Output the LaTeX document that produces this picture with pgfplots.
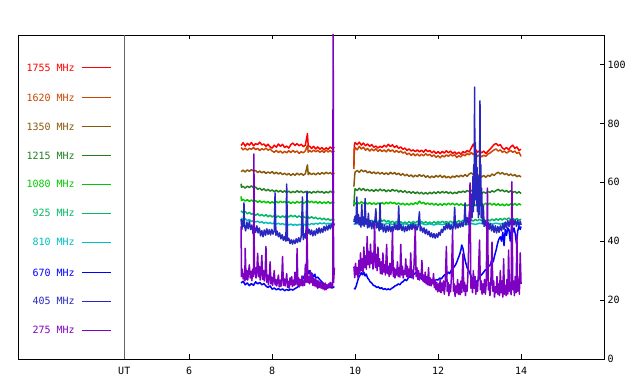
\documentclass[border=0pt]{standalone}
\usepackage{pgfplots}
\pgfplotsset{compat=1.18}
\usepackage{fontspec}
\setmainfont{DejaVu Sans Mono}
\newcommand{\lab}{\fontsize{10bp}{12bp}\selectfont}
\definecolor{cA}{RGB}{255,0,0}
\definecolor{cB}{RGB}{200,70,0}
\definecolor{cC}{RGB}{136,88,8}
\definecolor{cD}{RGB}{32,128,32}
\definecolor{cE}{RGB}{0,200,0}
\definecolor{cF}{RGB}{0,185,100}
\definecolor{cG}{RGB}{0,190,190}
\definecolor{cH}{RGB}{0,0,255}
\definecolor{cI}{RGB}{40,40,192}
\definecolor{cJ}{RGB}{125,0,195}
\definecolor{cUT}{RGB}{100,100,100}
\begin{document}
\begin{tikzpicture}
\useasboundingbox (-18bp,-25bp) rectangle (622bp,359bp);
\begin{axis}[at={(0,0)},anchor=south west,
  width=586bp,height=324bp,scale only axis,
  xmin=1.872,xmax=16,ymin=0,ymax=110,
  axis line style={line width=0.9bp},
  xtick={4.434,6,8,10,12,14},xticklabels={UT,6,8,10,12,14},
  ytick={0,20,40,60,80,100},
  ytick pos=right, yticklabel pos=right,
  xticklabel pos=bottom,
  tick align=inside, major tick length=4.5bp,
  tick style={line width=0.9bp,black},
  ticklabel style={font=\lab},
  xticklabel style={yshift=-5bp},
  /pgf/number format/assume math mode=true,
  unbounded coords=jump, clip=true,
  every axis plot/.append style={line width=1.5bp, mark=none, line join=round},
]
% UT line
\addplot[cUT,line width=0.9bp] coordinates {(4.434,0)(4.434,110)};
% legend lines
\addplot[cA,line width=1bp] coordinates {(3.41,98.9)(4.11,98.9)};
\addplot[cB,line width=1bp] coordinates {(3.41,88.7)(4.11,88.7)};
\addplot[cC,line width=1bp] coordinates {(3.41,78.9)(4.11,78.9)};
\addplot[cD,line width=1bp] coordinates {(3.41,69.0)(4.11,69.0)};
\addplot[cE,line width=1bp] coordinates {(3.41,59.4)(4.11,59.4)};
\addplot[cF,line width=1bp] coordinates {(3.41,49.5)(4.11,49.5)};
\addplot[cG,line width=1bp] coordinates {(3.41,39.6)(4.11,39.6)};
\addplot[cH,line width=1bp] coordinates {(3.41,29.4)(4.11,29.4)};
\addplot[cI,line width=1bp] coordinates {(3.41,19.6)(4.11,19.6)};
\addplot[cJ,line width=1bp] coordinates {(3.41,9.8)(4.11,9.8)};
\node[anchor=east,inner sep=0,text=cA,font=\lab] at (axis cs:3.243,98.9) {1755 MHz};
\node[anchor=east,inner sep=0,text=cB,font=\lab] at (axis cs:3.243,88.7) {1620 MHz};
\node[anchor=east,inner sep=0,text=cC,font=\lab] at (axis cs:3.243,78.9) {1350 MHz};
\node[anchor=east,inner sep=0,text=cD,font=\lab] at (axis cs:3.243,69.0) {1215 MHz};
\node[anchor=east,inner sep=0,text=cE,font=\lab] at (axis cs:3.243,59.4) {1080 MHz};
\node[anchor=east,inner sep=0,text=cF,font=\lab] at (axis cs:3.243,49.5) {925 MHz};
\node[anchor=east,inner sep=0,text=cG,font=\lab] at (axis cs:3.243,39.6) {810 MHz};
\node[anchor=east,inner sep=0,text=cH,font=\lab] at (axis cs:3.243,29.4) {670 MHz};
\node[anchor=east,inner sep=0,text=cI,font=\lab] at (axis cs:3.243,19.6) {405 MHz};
\node[anchor=east,inner sep=0,text=cJ,font=\lab] at (axis cs:3.243,9.8) {275 MHz};
\node[font=\lab] at (rel axis cs:0.5,1) [yshift=18bp] {06 06 2005};
% 1755
\addplot[cA] coordinates {(7.25,72.5)(7.3,73.4)(7.35,72.3)(7.4,73.2)(7.45,72.6)(7.5,73.5)(7.55,72.4)(7.6,73.1)(7.65,72.8)(7.7,73.6)(7.75,72.7)(7.8,73.0)(7.85,72.2)(7.9,72.9)(7.95,72.0)(8.0,71.6)(8.05,72.6)(8.1,71.9)(8.15,73.0)(8.2,72.2)(8.25,72.9)(8.3,71.8)(8.35,72.3)(8.4,71.6)(8.45,72.8)(8.5,73.3)(8.55,72.5)(8.6,73.1)(8.65,72.4)(8.7,72.9)(8.75,72.1)(8.8,72.6)(8.85,76.5)(8.87,72.0)(8.9,72.3)(8.95,71.5)(9.0,72.2)(9.05,71.3)(9.1,72.0)(9.15,71.2)(9.2,71.8)(9.25,71.0)(9.3,71.7)(9.35,71.2)(9.4,72.0)(9.45,71.4)(9.5,71.9)(9.7,nan)
(9.97,65.5)(9.98,72.5)(10.0,73.5)(10.05,72.8)(10.1,73.6)(10.15,72.6)(10.2,73.3)(10.25,72.4)(10.3,73.0)(10.35,72.2)(10.4,72.8)(10.45,71.9)(10.5,72.3)(10.55,71.6)(10.6,72.2)(10.65,71.8)(10.7,72.6)(10.75,72.0)(10.8,72.9)(10.85,72.1)(10.9,72.7)(10.95,71.8)(11.0,72.4)(11.05,71.5)(11.1,72.0)(11.15,71.2)(11.2,71.6)(11.25,70.8)(11.3,71.3)(11.35,70.6)(11.4,71.0)(11.45,70.4)(11.5,71.0)(11.55,70.3)(11.6,70.9)(11.65,70.2)(11.7,71.1)(11.75,70.4)(11.8,70.8)(11.85,70.0)(11.9,70.6)(11.95,69.8)(12.0,70.4)(12.05,69.7)(12.1,70.5)(12.15,69.9)(12.2,70.7)(12.25,70.0)(12.3,70.6)(12.35,69.8)(12.4,70.3)(12.45,69.6)(12.5,70.2)(12.55,69.5)(12.6,70.4)(12.65,70.0)(12.7,70.8)(12.75,70.3)(12.8,71.6)(12.85,73.0)(12.9,71.2)(12.95,70.2)(13.0,70.7)(13.05,70.0)(13.1,70.6)(13.15,69.8)(13.2,70.5)(13.25,71.2)(13.3,72.0)(13.35,72.8)(13.4,73.2)(13.45,72.4)(13.5,72.8)(13.55,71.6)(13.6,71.2)(13.65,71.8)(13.7,71.0)(13.75,72.0)(13.8,72.6)(13.85,71.5)(13.9,72.0)(13.95,70.8)(14.0,71.2)};
% 1620
\addplot[cB] coordinates {(7.25,71.8)(7.3,71.0)(7.35,71.6)(7.4,70.9)(7.45,71.5)(7.5,71.2)(7.55,71.8)(7.6,71.1)(7.65,71.5)(7.7,70.8)(7.75,71.4)(7.8,71.0)(7.85,71.6)(7.9,70.9)(7.95,71.3)(8.0,70.6)(8.05,70.2)(8.1,70.8)(8.15,70.1)(8.2,70.6)(8.25,69.9)(8.3,70.5)(8.35,70.0)(8.4,70.7)(8.45,70.1)(8.5,70.8)(8.55,70.2)(8.6,70.6)(8.65,69.8)(8.7,70.4)(8.75,70.0)(8.8,70.7)(8.85,72.5)(8.87,70.2)(8.9,70.8)(8.95,70.3)(9.0,70.9)(9.05,70.4)(9.1,70.8)(9.15,70.2)(9.2,70.7)(9.25,70.1)(9.3,70.9)(9.35,70.3)(9.4,70.8)(9.45,70.2)(9.5,70.6)(9.7,nan)
(9.97,64.5)(9.98,70.5)(10.0,71.8)(10.05,71.0)(10.1,72.2)(10.15,71.3)(10.2,71.9)(10.25,70.9)(10.3,71.5)(10.35,70.6)(10.4,71.3)(10.45,70.7)(10.5,71.4)(10.55,70.5)(10.6,71.1)(10.65,70.4)(10.7,71.0)(10.75,70.3)(10.8,71.2)(10.85,70.5)(10.9,71.0)(10.95,70.2)(11.0,70.8)(11.05,70.1)(11.1,70.6)(11.15,69.9)(11.2,70.3)(11.25,69.4)(11.3,69.9)(11.35,69.1)(11.4,69.7)(11.45,69.0)(11.5,69.6)(11.55,68.9)(11.6,69.5)(11.65,69.0)(11.7,69.7)(11.75,69.1)(11.8,69.5)(11.85,68.7)(11.9,69.3)(11.95,68.5)(12.0,69.0)(12.05,68.3)(12.1,69.1)(12.15,68.6)(12.2,69.3)(12.25,68.8)(12.3,69.5)(12.35,68.9)(12.4,69.4)(12.45,68.4)(12.5,69.0)(12.55,68.6)(12.6,69.5)(12.65,69.0)(12.7,69.8)(12.75,69.3)(12.8,70.1)(12.85,69.4)(12.9,69.8)(12.95,68.8)(13.0,69.3)(13.05,68.6)(13.1,69.2)(13.15,68.8)(13.2,69.6)(13.25,69.9)(13.3,70.5)(13.35,71.0)(13.4,71.3)(13.45,70.6)(13.5,71.0)(13.55,70.2)(13.6,70.6)(13.65,69.9)(13.7,70.4)(13.75,70.8)(13.8,70.2)(13.85,70.6)(13.9,69.8)(13.95,70.2)(14.0,68.8)};
% 1350
\addplot[cC] coordinates {(7.25,63.6)(7.3,64.1)(7.35,63.5)(7.4,64.2)(7.45,63.7)(7.5,64.3)(7.55,63.8)(7.6,64.0)(7.65,63.3)(7.7,63.8)(7.75,63.2)(7.8,63.7)(7.85,63.0)(7.9,63.5)(7.95,63.1)(8.0,63.6)(8.05,62.9)(8.1,63.4)(8.15,62.8)(8.2,63.3)(8.25,62.6)(8.3,63.1)(8.35,62.5)(8.4,63.0)(8.45,62.3)(8.5,62.9)(8.55,62.4)(8.6,63.1)(8.65,62.5)(8.7,63.0)(8.75,62.4)(8.8,62.9)(8.85,65.9)(8.87,62.6)(8.9,63.2)(8.95,62.6)(9.0,63.1)(9.05,62.5)(9.1,63.2)(9.15,62.7)(9.2,63.3)(9.25,62.8)(9.3,63.4)(9.35,62.9)(9.4,63.3)(9.45,62.7)(9.5,63.1)(9.7,nan)
(9.97,58.5)(9.99,62.5)(10.0,63.5)(10.05,64.0)(10.1,63.4)(10.15,64.2)(10.2,63.6)(10.25,64.0)(10.3,63.2)(10.35,63.7)(10.4,63.0)(10.45,63.5)(10.5,62.9)(10.55,63.4)(10.6,62.8)(10.65,63.3)(10.7,62.7)(10.75,63.2)(10.8,62.6)(10.85,63.4)(10.9,62.8)(10.95,63.3)(11.0,62.6)(11.05,63.1)(11.1,62.4)(11.15,62.9)(11.2,62.2)(11.25,62.7)(11.3,62.0)(11.35,62.5)(11.4,61.8)(11.45,62.4)(11.5,61.9)(11.55,62.6)(11.6,62.0)(11.65,62.5)(11.7,61.7)(11.75,62.2)(11.8,61.5)(11.85,62.1)(11.9,61.6)(11.95,62.3)(12.0,61.8)(12.05,62.4)(12.1,61.6)(12.15,62.2)(12.2,61.5)(12.25,62.0)(12.3,61.4)(12.35,62.1)(12.4,61.7)(12.45,62.3)(12.5,61.8)(12.55,62.4)(12.6,61.9)(12.65,62.6)(12.7,62.0)(12.75,62.8)(12.8,63.2)(12.85,62.5)(12.9,63.0)(12.95,62.2)(13.0,62.6)(13.05,61.8)(13.1,62.3)(13.15,61.7)(13.2,62.4)(13.25,62.0)(13.3,62.8)(13.35,62.3)(13.4,63.0)(13.45,63.4)(13.5,62.8)(13.55,63.3)(13.6,62.6)(13.65,63.0)(13.7,62.3)(13.75,62.8)(13.8,62.2)(13.85,62.6)(13.9,61.9)(13.95,62.3)(14.0,61.8)};
% 1215
\addplot[cD] coordinates {(7.25,59.5)(7.26,58.3)(7.3,58.6)(7.35,58.0)(7.4,58.7)(7.45,58.2)(7.5,58.8)(7.55,58.1)(7.6,58.4)(7.65,57.6)(7.7,58.0)(7.75,57.3)(7.8,57.8)(7.85,57.1)(7.9,57.6)(7.95,57.0)(8.0,57.4)(8.05,56.8)(8.1,57.3)(8.15,56.7)(8.2,57.2)(8.25,56.6)(8.3,57.1)(8.35,56.5)(8.4,57.0)(8.45,56.4)(8.5,56.9)(8.55,56.5)(8.6,57.1)(8.65,56.6)(8.7,57.0)(8.75,56.4)(8.8,56.9)(8.85,56.3)(8.9,56.8)(8.95,56.3)(9.0,56.9)(9.05,56.4)(9.1,57.0)(9.15,56.5)(9.2,56.9)(9.25,56.3)(9.3,56.8)(9.35,56.4)(9.4,57.0)(9.45,56.5)(9.5,56.8)(9.7,nan)
(9.97,51.8)(9.99,57.0)(10.0,57.8)(10.05,57.2)(10.1,58.0)(10.15,57.3)(10.2,57.9)(10.25,57.1)(10.3,57.6)(10.35,57.0)(10.4,57.5)(10.45,56.9)(10.5,57.6)(10.55,57.0)(10.6,57.7)(10.65,57.1)(10.7,57.5)(10.75,56.8)(10.8,57.4)(10.85,56.9)(10.9,57.6)(10.95,57.0)(11.0,57.4)(11.05,56.7)(11.1,57.2)(11.15,56.6)(11.2,57.1)(11.25,56.4)(11.3,56.9)(11.35,56.3)(11.4,56.8)(11.45,56.2)(11.5,56.7)(11.55,56.1)(11.6,56.6)(11.65,56.0)(11.7,56.5)(11.75,56.0)(11.8,56.6)(11.85,56.1)(11.9,56.7)(11.95,56.2)(12.0,56.8)(12.05,56.3)(12.1,56.9)(12.15,56.4)(12.2,56.8)(12.25,56.2)(12.3,56.7)(12.35,56.1)(12.4,56.6)(12.45,56.2)(12.5,56.9)(12.55,56.5)(12.6,57.0)(12.65,56.6)(12.7,57.2)(12.75,56.8)(12.8,57.3)(12.85,56.6)(12.9,57.0)(12.95,56.4)(13.0,56.8)(13.05,56.2)(13.1,56.7)(13.15,56.3)(13.2,56.9)(13.25,56.5)(13.3,57.1)(13.35,56.7)(13.4,57.2)(13.45,57.6)(13.5,57.0)(13.55,57.4)(13.6,56.8)(13.65,57.2)(13.7,56.6)(13.75,57.1)(13.8,56.5)(13.85,56.9)(13.9,56.3)(13.95,56.8)(14.0,56.2)};
% 1080
\addplot[cE] coordinates {(7.25,55.2)(7.26,53.8)(7.3,54.2)(7.35,53.6)(7.4,54.1)(7.45,53.5)(7.5,54.0)(7.55,53.4)(7.6,53.8)(7.65,53.2)(7.7,53.7)(7.75,53.1)(7.8,53.6)(7.85,53.0)(7.9,53.5)(7.95,52.9)(8.0,53.4)(8.05,52.9)(8.1,53.5)(8.15,53.0)(8.2,53.6)(8.25,53.1)(8.3,53.5)(8.35,52.9)(8.4,53.4)(8.45,52.8)(8.5,53.3)(8.55,52.9)(8.6,53.5)(8.65,53.0)(8.7,53.4)(8.75,52.8)(8.8,53.3)(8.85,53.9)(8.9,53.1)(8.95,53.6)(9.0,53.0)(9.05,53.5)(9.1,52.9)(9.15,53.4)(9.2,52.8)(9.25,53.3)(9.3,52.9)(9.35,53.4)(9.4,52.8)(9.45,53.3)(9.5,53.0)(9.7,nan)
(9.97,53.3)(10.0,52.6)(10.05,53.3)(10.1,52.7)(10.15,53.4)(10.2,52.8)(10.25,53.2)(10.3,52.6)(10.35,53.1)(10.4,52.5)(10.45,53.0)(10.5,52.4)(10.55,53.0)(10.6,52.5)(10.65,53.1)(10.7,52.6)(10.75,53.2)(10.8,52.7)(10.85,53.3)(10.9,52.8)(10.95,53.1)(11.0,52.5)(11.05,53.0)(11.1,52.4)(11.15,52.9)(11.2,52.3)(11.25,52.8)(11.3,52.3)(11.35,52.9)(11.4,52.4)(11.45,53.1)(11.5,52.6)(11.55,53.6)(11.6,52.8)(11.65,53.2)(11.7,52.5)(11.75,53.0)(11.8,52.4)(11.85,52.9)(11.9,52.3)(11.95,52.8)(12.0,52.2)(12.05,52.7)(12.1,52.2)(12.15,52.8)(12.2,52.3)(12.25,52.9)(12.3,52.4)(12.35,52.9)(12.4,52.3)(12.45,52.8)(12.5,52.2)(12.55,52.7)(12.6,52.1)(12.65,52.6)(12.7,52.0)(12.75,52.5)(12.8,52.0)(12.85,52.6)(12.9,52.1)(12.95,52.7)(13.0,52.2)(13.05,52.8)(13.1,52.3)(13.15,52.9)(13.2,52.4)(13.25,52.9)(13.3,52.3)(13.35,52.8)(13.4,52.2)(13.45,52.7)(13.5,52.1)(13.55,52.6)(13.6,52.0)(13.65,52.6)(13.7,52.1)(13.75,52.7)(13.8,52.2)(13.85,52.8)(13.9,52.2)(13.95,52.7)(14.0,52.3)};
% 925
\addplot[cF] coordinates {(7.25,50.3)(7.3,49.6)(7.35,50.1)(7.4,49.3)(7.45,49.8)(7.5,49.1)(7.55,49.5)(7.6,48.8)(7.65,49.3)(7.7,48.6)(7.75,49.1)(7.8,48.5)(7.85,49.0)(7.9,48.3)(7.95,48.8)(8.0,48.2)(8.05,48.7)(8.1,48.1)(8.15,48.6)(8.2,48.0)(8.25,48.6)(8.3,48.1)(8.35,48.7)(8.4,48.2)(8.45,48.8)(8.5,48.3)(8.55,48.7)(8.6,48.1)(8.65,48.6)(8.7,48.0)(8.75,48.5)(8.8,47.9)(8.85,48.4)(8.9,47.8)(8.95,48.3)(9.0,47.7)(9.05,48.1)(9.1,47.5)(9.15,47.9)(9.2,47.3)(9.25,47.8)(9.3,47.2)(9.35,47.6)(9.4,47.0)(9.45,47.5)(9.5,47.1)(9.7,nan)
(9.97,47.2)(10.0,47.8)(10.05,47.1)(10.1,47.6)(10.15,46.9)(10.2,47.4)(10.25,46.8)(10.3,47.3)(10.35,46.6)(10.4,47.1)(10.45,46.5)(10.5,47.0)(10.55,46.4)(10.6,47.5)(10.65,46.7)(10.7,47.2)(10.75,46.5)(10.8,47.0)(10.85,46.3)(10.9,46.8)(10.95,46.2)(11.0,46.7)(11.05,46.1)(11.1,46.6)(11.15,46.0)(11.2,46.5)(11.25,46.0)(11.3,46.6)(11.35,46.1)(11.4,46.7)(11.45,46.2)(11.5,46.8)(11.55,46.3)(11.6,46.7)(11.65,46.1)(11.7,46.6)(11.75,46.0)(11.8,46.5)(11.85,46.0)(11.9,46.6)(11.95,46.1)(12.0,46.7)(12.05,46.2)(12.1,46.8)(12.15,46.3)(12.2,46.7)(12.25,46.2)(12.3,46.8)(12.35,46.3)(12.4,46.9)(12.45,46.4)(12.5,47.0)(12.55,46.5)(12.6,47.1)(12.65,46.6)(12.7,47.2)(12.75,46.7)(12.8,47.3)(12.85,46.8)(12.9,47.4)(12.95,46.9)(13.0,47.5)(13.05,46.9)(13.1,47.4)(13.15,46.8)(13.2,47.3)(13.25,46.9)(13.3,47.5)(13.35,47.0)(13.4,47.6)(13.45,47.1)(13.5,47.7)(13.55,47.2)(13.6,47.8)(13.65,47.3)(13.7,47.9)(13.75,47.3)(13.8,47.8)(13.85,47.2)(13.9,47.7)(13.95,47.1)(14.0,47.5)};
% 810
\addplot[cG] coordinates {(7.25,47.8)(7.3,47.3)(7.35,47.6)(7.4,47.0)(7.45,47.3)(7.5,46.7)(7.55,47.0)(7.6,46.5)(7.65,46.8)(7.7,46.3)(7.75,46.6)(7.8,46.1)(7.85,46.4)(7.9,46.0)(7.95,46.3)(8.0,45.9)(8.05,46.2)(8.1,45.8)(8.15,46.1)(8.2,45.7)(8.25,46.0)(8.3,45.6)(8.35,45.9)(8.4,45.5)(8.45,45.8)(8.5,45.4)(8.55,45.7)(8.6,45.4)(8.65,45.7)(8.7,45.5)(8.75,45.8)(8.8,45.5)(8.85,45.9)(8.9,45.6)(8.95,46.0)(9.0,45.7)(9.05,46.1)(9.1,45.8)(9.15,46.2)(9.2,45.9)(9.25,46.2)(9.3,45.8)(9.35,46.1)(9.4,45.8)(9.45,46.2)(9.5,46.0)(9.7,nan)
(9.97,45.6)(10.0,46.2)(10.1,45.8)(10.2,46.1)(10.3,45.7)(10.4,46.0)(10.5,45.6)(10.6,46.0)(10.7,45.7)(10.8,46.1)(10.9,45.7)(11.0,46.0)(11.1,45.6)(11.2,45.9)(11.3,45.5)(11.4,45.9)(11.5,45.6)(11.6,46.0)(11.7,45.6)(11.8,45.9)(11.9,45.5)(12.0,45.9)(12.1,45.6)(12.2,46.0)(12.3,45.7)(12.4,46.0)(12.5,45.6)(12.6,45.9)(12.7,45.6)(12.8,46.0)(12.9,45.7)(13.0,46.1)(13.1,45.8)(13.2,46.2)(13.3,45.8)(13.4,46.1)(13.5,45.8)(13.6,46.2)(13.7,45.9)(13.8,46.3)(13.9,45.9)(14.0,46.2)};
% 670
\addplot[cH] coordinates {(7.25,25.8)(7.3,26.4)(7.35,25.2)(7.4,25.8)(7.45,24.9)(7.5,25.6)(7.55,25.0)(7.6,26.2)(7.65,25.5)(7.7,26.0)(7.75,25.2)(7.8,25.6)(7.85,24.8)(7.9,24.3)(7.95,24.8)(8.0,23.7)(8.05,24.1)(8.1,23.5)(8.15,23.9)(8.2,23.4)(8.25,23.8)(8.3,23.2)(8.35,23.6)(8.4,23.3)(8.45,23.7)(8.5,23.4)(8.55,23.9)(8.6,24.3)(8.65,24.8)(8.7,26.0)(8.75,27.5)(8.8,29.0)(8.83,28.2)(8.85,30.3)(8.88,29.0)(8.9,30.0)(8.93,28.5)(8.95,29.2)(9.0,28.0)(9.03,28.8)(9.05,27.5)(9.1,27.8)(9.15,26.9)(9.2,26.2)(9.25,25.4)(9.3,25.0)(9.35,24.6)(9.4,24.3)(9.45,24.1)(9.5,24.6)(9.7,nan)
(9.97,24.0)(10.0,23.8)(10.03,25.0)(10.06,26.5)(10.09,27.8)(10.12,28.5)(10.15,29.3)(10.18,28.6)(10.21,29.5)(10.24,28.2)(10.27,28.8)(10.3,27.5)(10.33,27.0)(10.36,26.2)(10.4,25.8)(10.44,25.0)(10.48,24.8)(10.52,24.3)(10.56,24.5)(10.6,23.9)(10.64,24.2)(10.68,23.6)(10.72,23.9)(10.76,23.5)(10.8,23.8)(10.84,23.5)(10.88,24.0)(10.92,24.3)(10.96,24.8)(11.0,25.0)(11.04,25.5)(11.08,25.2)(11.12,26.0)(11.16,26.3)(11.2,27.0)(11.24,26.6)(11.28,27.5)(11.32,28.0)(11.36,27.6)(11.4,28.5)(11.44,29.0)(11.48,29.5)(11.52,28.8)(11.56,28.0)(11.6,27.2)(11.64,26.8)(11.68,26.2)(11.72,26.5)(11.76,25.8)(11.8,25.9)(11.84,26.3)(11.88,25.8)(11.92,26.5)(11.96,27.0)(12.0,26.8)(12.04,27.5)(12.08,27.2)(12.12,28.0)(12.16,28.6)(12.2,28.5)(12.24,29.5)(12.28,29.0)(12.32,30.2)(12.36,30.8)(12.4,31.5)(12.44,32.5)(12.48,34.0)(12.52,35.5)(12.55,37.0)(12.57,38.7)(12.6,37.5)(12.63,35.0)(12.66,33.0)(12.7,31.0)(12.74,30.0)(12.78,28.5)(12.82,27.5)(12.86,26.0)(12.9,25.9)(12.94,26.5)(12.98,27.0)(13.02,28.2)(13.06,28.8)(13.1,29.5)(13.14,30.3)(13.18,30.0)(13.22,31.5)(13.26,32.0)(13.3,33.7)(13.33,33.0)(13.36,35.0)(13.4,37.0)(13.43,39.0)(13.46,40.5)(13.5,41.5)(13.53,40.0)(13.56,43.0)(13.59,38.5)(13.62,44.0)(13.65,42.0)(13.68,44.5)(13.71,43.8)(13.74,40.0)(13.77,45.0)(13.8,43.0)(13.83,44.5)(13.86,42.5)(13.89,39.0)(13.92,43.5)(13.95,45.0)(13.98,44.0)(14.0,45.0)};
% 405
\addplot[cI] coordinates {(7.25,47.5)(7.27,44.0)(7.29,47.0)(7.31,45.0)(7.32,53.0)(7.33,45.5)(7.36,43.5)(7.39,46.5)(7.42,44.2)(7.45,46.8)(7.48,44.0)(7.51,45.5)(7.54,42.5)(7.57,44.8)(7.6,43.0)(7.63,45.2)(7.66,42.8)(7.69,44.5)(7.72,41.8)(7.75,43.6)(7.78,41.5)(7.81,43.8)(7.84,42.0)(7.87,44.2)(7.9,42.3)(7.93,43.9)(7.96,42.1)(7.99,44.0)(8.02,42.4)(8.05,43.5)(8.07,56.4)(8.09,42.0)(8.12,43.4)(8.15,41.5)(8.18,42.8)(8.21,40.8)(8.24,42.2)(8.27,40.3)(8.3,41.6)(8.33,40.0)(8.35,59.4)(8.37,40.2)(8.4,41.0)(8.43,39.2)(8.46,40.5)(8.49,39.0)(8.52,40.4)(8.55,39.2)(8.58,40.8)(8.61,39.5)(8.64,41.2)(8.67,39.8)(8.7,41.5)(8.73,55.0)(8.75,40.5)(8.78,42.5)(8.81,41.0)(8.84,57.0)(8.86,42.5)(8.89,44.0)(8.92,42.2)(8.95,43.8)(8.98,41.8)(9.01,43.5)(9.04,42.0)(9.07,44.2)(9.1,42.6)(9.13,44.5)(9.16,42.8)(9.19,44.3)(9.22,43.0)(9.25,45.0)(9.28,43.5)(9.31,45.2)(9.34,43.8)(9.37,45.5)(9.4,44.2)(9.43,45.8)(9.46,44.5)(9.5,46.0)(9.7,nan)
(9.97,46.5)(10.0,48.5)(10.02,45.8)(10.04,55.0)(10.06,46.2)(10.08,49.0)(10.1,45.5)(10.12,48.0)(10.14,44.8)(10.16,52.5)(10.18,45.5)(10.2,48.2)(10.22,45.0)(10.24,54.5)(10.26,45.8)(10.28,47.5)(10.3,44.5)(10.32,49.5)(10.34,44.8)(10.37,47.0)(10.4,44.2)(10.43,46.8)(10.46,44.0)(10.5,51.0)(10.52,44.5)(10.55,46.2)(10.58,43.5)(10.6,53.0)(10.62,44.0)(10.65,45.8)(10.68,43.2)(10.71,45.5)(10.74,43.0)(10.77,45.2)(10.8,43.4)(10.83,45.6)(10.86,43.2)(10.89,45.0)(10.92,43.5)(10.95,46.0)(10.98,44.0)(11.0,45.5)(11.03,43.8)(11.05,52.0)(11.07,44.0)(11.1,45.8)(11.13,43.6)(11.16,45.2)(11.19,43.2)(11.22,45.0)(11.25,43.5)(11.28,45.4)(11.31,43.8)(11.34,45.8)(11.37,44.0)(11.4,46.0)(11.43,44.2)(11.46,45.5)(11.49,43.8)(11.52,45.2)(11.55,50.0)(11.57,43.5)(11.6,44.8)(11.63,43.0)(11.66,44.5)(11.69,42.5)(11.72,44.0)(11.75,42.2)(11.78,43.4)(11.81,41.5)(11.84,42.8)(11.87,41.2)(11.9,42.6)(11.93,41.0)(11.96,42.5)(11.99,41.3)(12.02,43.0)(12.05,42.0)(12.08,44.0)(12.11,43.0)(12.14,45.0)(12.17,43.8)(12.2,46.0)(12.23,44.2)(12.26,46.0)(12.29,44.0)(12.32,45.5)(12.35,43.8)(12.38,45.6)(12.4,51.5)(12.42,44.2)(12.45,46.0)(12.48,44.5)(12.51,46.2)(12.54,44.8)(12.57,46.5)(12.6,45.0)(12.63,47.0)(12.65,53.0)(12.67,45.5)(12.7,48.0)(12.73,45.8)(12.76,50.0)(12.78,46.0)(12.8,56.0)(12.82,48.0)(12.84,62.0)(12.85,50.0)(12.86,66.0)(12.87,52.0)(12.88,92.3)(12.89,55.0)(12.9,73.5)(12.91,54.0)(12.92,70.0)(12.93,52.0)(12.94,65.0)(12.95,50.0)(12.96,62.0)(12.97,48.0)(12.98,58.0)(12.99,49.0)(13.0,64.0)(13.01,87.6)(13.02,52.0)(13.03,66.0)(13.04,48.0)(13.05,58.0)(13.07,46.0)(13.09,52.0)(13.11,45.0)(13.14,47.0)(13.17,44.5)(13.2,46.5)(13.23,44.0)(13.26,46.0)(13.29,43.5)(13.32,45.5)(13.35,43.0)(13.38,45.2)(13.41,42.8)(13.44,45.0)(13.47,43.0)(13.5,45.2)(13.53,43.5)(13.56,46.0)(13.59,44.0)(13.62,46.5)(13.65,44.5)(13.68,47.0)(13.71,45.0)(13.74,47.2)(13.77,45.2)(13.8,47.5)(13.83,45.5)(13.86,47.2)(13.89,45.0)(13.92,47.0)(13.95,45.3)(13.98,46.8)(14.0,45.5)};
% 275
\addplot[cJ] coordinates {(7.25,45.0)(7.26,28.0)(7.28,30.5)(7.3,27.2)(7.32,29.0)(7.34,26.5)(7.35,37.6)(7.37,27.0)(7.39,30.0)(7.41,26.8)(7.43,29.5)(7.45,32.0)(7.47,27.5)(7.49,29.8)(7.51,26.6)(7.53,30.5)(7.55,28.0)(7.56,69.6)(7.57,29.0)(7.59,31.0)(7.61,27.5)(7.63,30.2)(7.65,35.9)(7.67,28.0)(7.69,31.5)(7.71,26.8)(7.73,29.5)(7.75,35.2)(7.77,27.0)(7.79,30.0)(7.81,26.5)(7.83,29.0)(7.85,38.2)(7.87,26.0)(7.89,28.5)(7.91,25.2)(7.93,27.5)(7.95,33.0)(7.97,25.5)(7.99,27.8)(8.01,25.0)(8.03,27.2)(8.05,30.0)(8.07,25.2)(8.09,27.0)(8.11,24.8)(8.13,26.5)(8.15,28.5)(8.17,24.5)(8.19,26.8)(8.21,24.6)(8.23,27.0)(8.25,34.8)(8.27,25.0)(8.29,27.2)(8.31,24.8)(8.33,26.5)(8.35,29.0)(8.37,24.3)(8.39,26.4)(8.41,24.0)(8.43,27.5)(8.45,25.2)(8.47,28.0)(8.49,24.6)(8.51,26.8)(8.53,25.0)(8.55,29.5)(8.57,25.2)(8.59,27.0)(8.6,37.5)(8.62,25.0)(8.64,27.5)(8.66,24.5)(8.68,27.0)(8.7,25.0)(8.72,28.2)(8.74,24.8)(8.76,26.5)(8.78,25.0)(8.8,32.0)(8.82,26.0)(8.84,44.5)(8.86,26.0)(8.88,28.0)(8.9,25.5)(8.92,30.0)(8.94,26.0)(8.96,29.0)(8.98,25.0)(9.0,27.5)(9.02,24.8)(9.04,27.2)(9.06,24.5)(9.08,26.8)(9.1,24.0)(9.12,26.5)(9.14,24.3)(9.16,26.2)(9.18,24.0)(9.2,26.0)(9.22,23.8)(9.24,25.5)(9.26,23.5)(9.28,25.8)(9.3,23.5)(9.32,25.2)(9.34,24.0)(9.36,25.5)(9.38,24.2)(9.4,26.0)(9.42,24.5)(9.44,25.8)(9.46,24.5)(9.47,120)(9.48,26.0)(9.5,31.0)(9.7,nan)
(9.97,31.4)(9.99,27.6)(10.01,32.5)(10.03,28.6)(10.05,31.0)(10.07,27.5)(10.09,33.5)(10.11,29.0)(10.13,36.0)(10.15,30.0)(10.17,34.0)(10.19,29.5)(10.21,38.0)(10.23,31.0)(10.25,35.0)(10.27,30.5)(10.29,41.6)(10.31,32.0)(10.33,36.5)(10.35,31.0)(10.37,39.0)(10.39,32.5)(10.41,36.0)(10.43,30.5)(10.45,34.0)(10.47,45.5)(10.49,31.0)(10.51,35.5)(10.53,30.0)(10.55,38.0)(10.57,31.5)(10.59,34.0)(10.61,29.0)(10.63,33.0)(10.65,28.8)(10.67,36.0)(10.69,29.5)(10.71,32.0)(10.73,28.5)(10.76,38.9)(10.78,29.0)(10.8,31.5)(10.82,28.0)(10.84,32.5)(10.86,28.6)(10.88,31.0)(10.9,43.8)(10.92,28.0)(10.94,31.0)(10.96,27.5)(10.98,30.5)(11.0,28.5)(11.02,33.0)(11.04,28.0)(11.06,31.0)(11.08,27.8)(11.1,38.9)(11.12,28.5)(11.14,31.5)(11.16,27.5)(11.18,30.0)(11.2,28.8)(11.22,34.0)(11.24,28.0)(11.26,31.5)(11.28,27.5)(11.3,30.5)(11.32,28.2)(11.34,36.0)(11.36,27.8)(11.38,30.2)(11.4,27.2)(11.42,32.0)(11.45,44.5)(11.47,28.0)(11.49,31.0)(11.51,27.0)(11.53,30.0)(11.55,26.8)(11.57,29.0)(11.59,27.5)(11.61,33.5)(11.63,26.5)(11.65,28.5)(11.67,26.0)(11.69,29.5)(11.71,25.5)(11.73,28.0)(11.75,25.2)(11.77,31.0)(11.79,25.0)(11.81,27.5)(11.83,24.8)(11.85,27.0)(11.87,25.5)(11.89,29.0)(11.91,24.2)(11.93,26.8)(11.95,23.5)(11.97,26.0)(11.99,22.8)(12.01,25.5)(12.03,23.0)(12.05,27.0)(12.07,22.5)(12.09,25.8)(12.11,23.2)(12.13,26.5)(12.15,22.0)(12.17,25.0)(12.2,38.2)(12.22,23.0)(12.24,26.0)(12.26,21.5)(12.28,25.2)(12.3,22.8)(12.32,27.5)(12.35,43.8)(12.37,23.0)(12.39,25.5)(12.41,21.2)(12.43,24.8)(12.45,22.5)(12.47,27.0)(12.49,22.0)(12.51,25.5)(12.53,21.8)(12.55,26.5)(12.57,22.5)(12.6,35.7)(12.62,23.0)(12.64,26.0)(12.66,21.5)(12.68,25.0)(12.7,23.0)(12.72,29.0)(12.75,45.0)(12.77,59.8)(12.79,24.0)(12.81,27.0)(12.83,22.5)(12.85,30.0)(12.87,24.0)(12.89,28.0)(12.91,22.0)(12.93,26.0)(12.95,23.0)(12.97,28.5)(13.0,40.4)(13.02,23.5)(13.04,26.5)(13.06,22.0)(13.08,25.5)(13.1,22.5)(13.12,27.0)(13.14,22.0)(13.16,25.5)(13.19,58.0)(13.21,23.5)(13.23,26.0)(13.25,21.5)(13.27,25.0)(13.3,39.7)(13.32,23.0)(13.34,26.5)(13.36,21.0)(13.38,24.5)(13.4,22.5)(13.42,28.0)(13.44,22.0)(13.46,25.5)(13.48,21.5)(13.5,30.0)(13.52,22.5)(13.54,26.5)(13.56,21.0)(13.58,34.0)(13.6,22.0)(13.62,25.0)(13.64,21.5)(13.66,27.0)(13.68,22.0)(13.7,37.0)(13.72,23.0)(13.74,25.5)(13.76,21.8)(13.78,60.2)(13.8,23.5)(13.82,26.5)(13.84,21.5)(13.86,28.0)(13.88,22.5)(13.9,42.0)(13.92,23.0)(13.94,27.0)(13.96,22.0)(13.98,36.0)(14.0,25.5)};
\end{axis}
\end{tikzpicture}
\end{document}
